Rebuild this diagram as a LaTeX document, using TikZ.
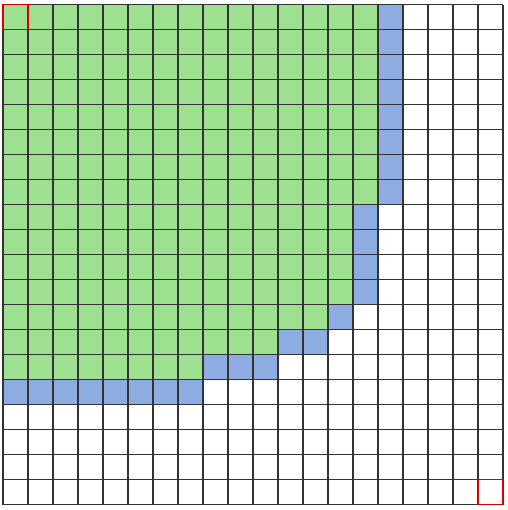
\documentclass[tikz,border=0pt]{standalone}
\definecolor{cellgreen}{RGB}{157,224,144}
\definecolor{cellblue}{RGB}{141,173,226}
\begin{document}
\begin{tikzpicture}[x=1cm,y=-1cm,
    gridline/.style={line width=1.4pt,black!80},
    markcell/.style={draw=red!85!black,line width=1.4pt}]
  \useasboundingbox (-0.12,-0.19) rectangle (20.2,20.21);
  % filled cells, row by row: green up to column \g, blue up to \e
  \foreach \r/\g/\e in {0/15/16,1/15/16,2/15/16,3/15/16,4/15/16,5/15/16,6/15/16,7/15/16,
      8/14/15,9/14/15,10/14/15,11/14/15,12/13/14,13/11/13,14/8/11,15/0/8} {
    \fill[cellgreen] (0,\r) rectangle (\g,\r+1);
    \fill[cellblue] (\g,\r) rectangle (\e,\r+1);
  }
  % grid
  \draw[gridline] (0,0) grid (20,20);
  % start and end cells
  \draw[markcell] (0,0) rectangle (1,1);
  \draw[markcell] (19,19) rectangle (20,20);
\end{tikzpicture}
\end{document}
